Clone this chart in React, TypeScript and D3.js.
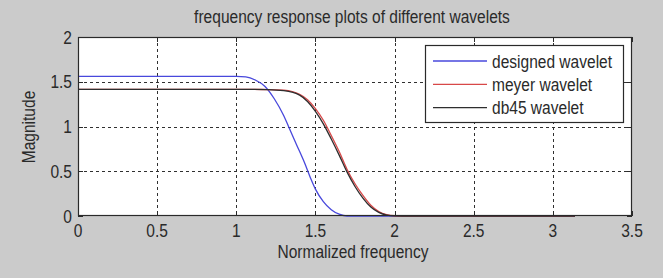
import React, { useEffect, useRef } from 'react';
import * as d3 from 'd3';

// Значения
const xTicks = [0, 0.5, 1, 1.5, 2, 2.5, 3, 3.5];
const yTicks = [0, 0.5, 1, 1.5, 2];
const xTickLabels = ['0', '0.5', '1', '1.5', '2', '2.5', '3', '3.5'];
const yTickLabels = ['0', '0.5', '1', '1.5', '2'];

const designedFreq = [0, 0.5, 1.0, 1.06, 1.12, 1.18, 1.24, 1.3, 1.33, 1.38, 1.43, 1.47, 1.5, 1.55, 1.6, 1.65, 1.7, 2.0, 2.5, 3.14];
const designedMag = [1.56, 1.56, 1.56, 1.555, 1.52, 1.45, 1.31, 1.12, 1.0, 0.8, 0.6, 0.42, 0.3, 0.16, 0.07, 0.02, 0.0, 0, 0, 0];

const meyerFreq = [0, 0.5, 1.0, 1.1, 1.2, 1.3, 1.4, 1.45, 1.5, 1.55, 1.6, 1.65, 1.7, 1.75, 1.8, 1.85, 1.9, 1.95, 2.0, 2.1, 2.5, 3.14];
const meyerMag = [1.414, 1.414, 1.414, 1.414, 1.413, 1.407, 1.36, 1.3, 1.2, 1.07, 0.9, 0.72, 0.52, 0.36, 0.23, 0.12, 0.05, 0.015, 0.003, 0, 0, 0];

const db45Freq = [0, 0.5, 1.0, 1.1, 1.2, 1.3, 1.4, 1.45, 1.5, 1.55, 1.6, 1.65, 1.7, 1.75, 1.8, 1.85, 1.9, 1.95, 2.0, 2.1, 2.5, 3.14];
const db45Mag = [1.414, 1.414, 1.414, 1.414, 1.412, 1.4, 1.35, 1.28, 1.17, 1.03, 0.86, 0.68, 0.49, 0.33, 0.2, 0.1, 0.04, 0.01, 0.002, 0, 0, 0];

const seriesNames = ['designed wavelet', 'meyer wavelet', 'db45 wavelet'];
const seriesColors = ['#4848dc', '#d84848', '#2e2e2e'];

const W = 663;
const H = 278;
const FONT = '"Liberation Sans", Arial, sans-serif';
const FS = 18.5;
const SX = 0.84;

export default function App() {
  const svgRef = useRef<SVGSVGElement>(null);

  useEffect(() => {
    if (!svgRef.current) return;
    const root = d3.select(svgRef.current);
    root.selectAll('*').remove();

    const left = 78, right = 632, top = 37, bottom = 216;
    const x = d3.scaleLinear().domain([0, 3.5]).range([left, right]);
    const y = d3.scaleLinear().domain([0, 2]).range([bottom, top]);

    root.append('rect').attr('width', W).attr('height', H).attr('fill', '#cbcbcb');
    root.append('rect')
      .attr('x', left).attr('y', top)
      .attr('width', right - left).attr('height', bottom - top)
      .attr('fill', '#fff');

    const addText = (tx: number, ty: number, str: string, anchor: string, rotate = 0) =>
      root.append('text')
        .attr('transform', `translate(${tx},${ty}) rotate(${rotate}) scale(${SX},1)`)
        .attr('text-anchor', anchor)
        .style('font-family', FONT)
        .style('font-size', `${FS}px`)
        .style('fill', '#2a2a2a')
        .text(str);

    // сетка
    const grid = root.append('g')
      .attr('stroke', '#303030')
      .attr('stroke-width', 1)
      .attr('stroke-dasharray', '3,3');
    xTicks.slice(1, -1).forEach(t => {
      grid.append('line')
        .attr('x1', Math.round(x(t)) + 0.5).attr('x2', Math.round(x(t)) + 0.5)
        .attr('y1', top).attr('y2', bottom);
    });
    yTicks.slice(1, -1).forEach(t => {
      grid.append('line')
        .attr('x1', left).attr('x2', right)
        .attr('y1', Math.round(y(t)) + 0.5).attr('y2', Math.round(y(t)) + 0.5);
    });

    // кривые
    const line = d3.line<[number, number]>()
      .x(d => x(d[0]))
      .y(d => y(d[1]))
      .curve(d3.curveMonotoneX);
    const series: [number, number][][] = [
      designedFreq.map((f, i) => [f, designedMag[i]]),
      meyerFreq.map((f, i) => [f, meyerMag[i]]),
      db45Freq.map((f, i) => [f, db45Mag[i]]),
    ];
    series.forEach((s, i) => {
      root.append('path')
        .attr('d', line(s) as string)
        .attr('fill', 'none')
        .attr('stroke', seriesColors[i])
        .attr('stroke-width', 1.3);
    });

    // рамка и засечки
    root.append('rect')
      .attr('x', left + 0.5).attr('y', top + 0.5)
      .attr('width', right - left - 1).attr('height', bottom - top - 1)
      .attr('fill', 'none').attr('stroke', '#2a2a2a').attr('stroke-width', 1.2);
    const ticks = root.append('g').attr('stroke', '#2a2a2a').attr('stroke-width', 1);
    xTicks.forEach(t => {
      const px = Math.round(x(t)) + 0.5;
      ticks.append('line').attr('x1', px).attr('x2', px).attr('y1', bottom).attr('y2', bottom - 5);
      ticks.append('line').attr('x1', px).attr('x2', px).attr('y1', top).attr('y2', top + 5);
    });
    yTicks.forEach(t => {
      const py = Math.round(y(t)) + 0.5;
      ticks.append('line').attr('x1', left).attr('x2', left + 5).attr('y1', py).attr('y2', py);
      ticks.append('line').attr('x1', right).attr('x2', right - 5).attr('y1', py).attr('y2', py);
    });

    xTicks.forEach((t, i) => addText(x(t), 237, xTickLabels[i], 'middle'));
    yTicks.forEach((t, i) => addText(72, y(t) + 6.5, yTickLabels[i], 'end'));

    addText(352, 23, 'frequency response plots of different wavelets', 'middle');
    addText(353, 258, 'Normalized frequency', 'middle');
    addText(35, 127, 'Magnitude', 'middle', -90);

    // легенда
    const lg = root.append('g');
    lg.append('rect')
      .attr('x', 425.5).attr('y', 45.5)
      .attr('width', 198).attr('height', 77)
      .attr('fill', '#fff').attr('stroke', '#2a2a2a').attr('stroke-width', 1.2);
    seriesNames.forEach((name, i) => {
      const cy = 61 + i * 23.3;
      lg.append('line')
        .attr('x1', 433).attr('x2', 487)
        .attr('y1', cy).attr('y2', cy)
        .attr('stroke', seriesColors[i]).attr('stroke-width', 1.3);
      addText(492, cy + 6.5, name, 'start');
    });
  }, []);

  return (
    <svg ref={svgRef} width={W} height={H} style={{ position: 'absolute', left: 0, top: 0 }} />
  );
}
